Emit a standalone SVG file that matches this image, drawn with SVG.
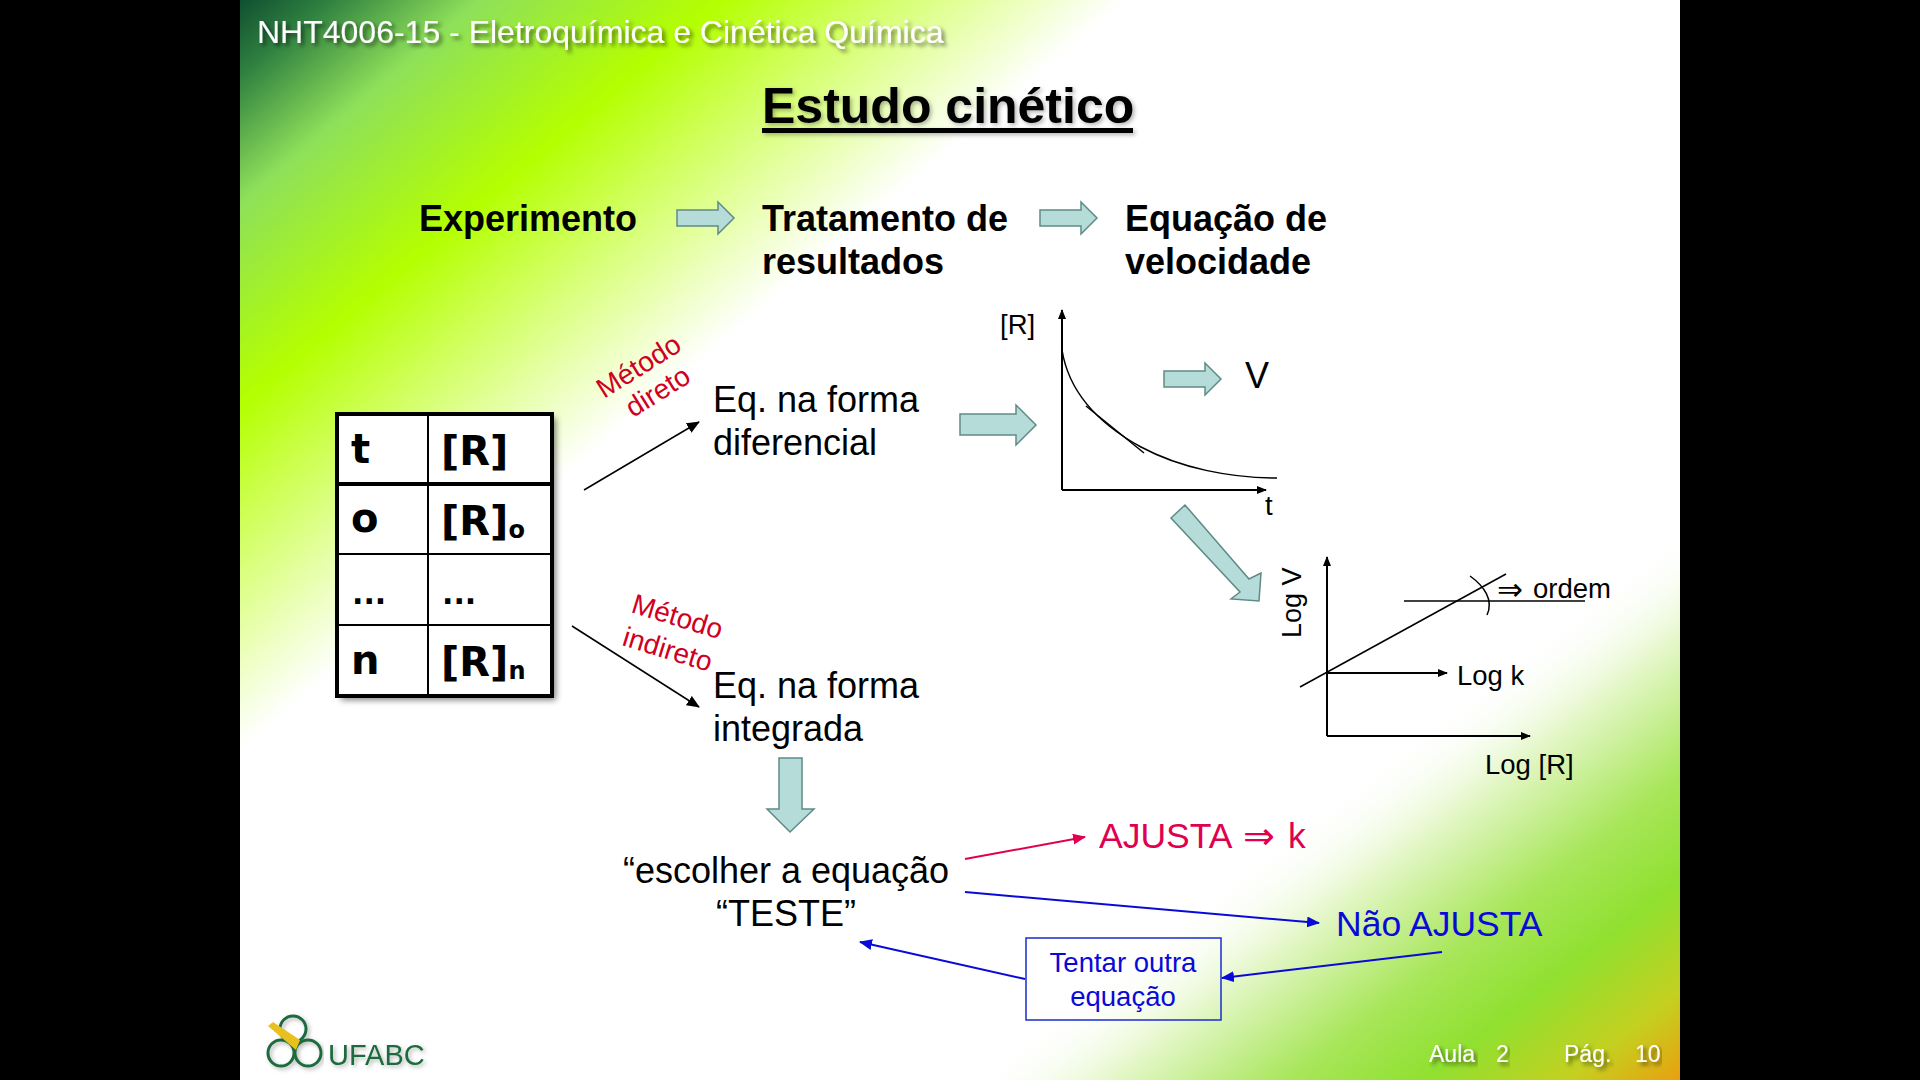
<svg xmlns="http://www.w3.org/2000/svg" width="1920" height="1080" viewBox="0 0 1920 1080">
<style>
text{font-family:"Liberation Sans",Arial,sans-serif;fill:#000}
.h{font-weight:700;font-size:36px}
.b{font-size:36px}
.s{font-size:27.5px}
.r{fill:#d00020;font-size:28px}
.w{fill:#fff;filter:url(#ts)}
.bl{fill:#0a0ad8}
.hand{font-family:"DejaVu Sans",sans-serif;font-weight:700;font-size:40px}
.dots{font-family:"DejaVu Sans",sans-serif;font-weight:700;font-size:30px}
.sub{font-family:"DejaVu Sans",sans-serif;font-weight:700;font-size:24px}
.ba{fill:#b5dcd8;stroke:#5f8a86;stroke-width:1.5}
.ln{fill:none;stroke:#000;stroke-width:1.5}
.ax{fill:none;stroke:#000;stroke-width:2}
.cb{fill:none;stroke:#0a0ad8;stroke-width:2}
.cr{fill:none;stroke:#e0004f;stroke-width:2}
.tb{fill:none;stroke:#000;stroke-width:2}
</style>
<defs>
<linearGradient id="g1" gradientUnits="userSpaceOnUse" x1="240" y1="0" x2="610" y2="437">
<stop offset="0" stop-color="#0f4f30"/><stop offset=".1" stop-color="#2f8040"/><stop offset=".27" stop-color="#8ee05a"/><stop offset=".54" stop-color="#b4ff00"/><stop offset=".74" stop-color="#d6ff70"/><stop offset="1" stop-color="#fff"/>
</linearGradient>
<linearGradient id="g2" gradientUnits="userSpaceOnUse" x1="1412" y1="735" x2="1680" y2="1080">
<stop offset="0" stop-color="#fff" stop-opacity="0"/><stop offset=".2" stop-color="#e4f7c8"/><stop offset=".45" stop-color="#a8e65a"/><stop offset=".64" stop-color="#90e030"/><stop offset=".84" stop-color="#c4d020"/><stop offset="1" stop-color="#e8a010"/>
</linearGradient>
<filter id="ts" x="-5%" y="-30%" width="110%" height="170%"><feDropShadow dx="3" dy="3" stdDeviation="2" flood-color="#000" flood-opacity=".55"/></filter>
<filter id="tl" x="-5%" y="-30%" width="110%" height="170%"><feDropShadow dx="2" dy="2" stdDeviation="2" flood-color="#000" flood-opacity=".3"/></filter>
<filter id="ds" x="-5%" y="-5%" width="110%" height="110%"><feDropShadow dx="4" dy="4" stdDeviation="3" flood-color="#000" flood-opacity=".5"/></filter>
<marker id="mk" markerWidth="10" markerHeight="8" refX="9" refY="4" orient="auto" markerUnits="userSpaceOnUse"><path d="M0 0L10 4L0 8Z" fill="#000"/></marker>
<marker id="mkl" markerWidth="13" markerHeight="11" refX="12" refY="5.5" orient="auto" markerUnits="userSpaceOnUse"><path d="M0 0L13 5.5L0 11Z" fill="#000"/></marker>
<marker id="mb" markerWidth="13" markerHeight="11" refX="12" refY="5.5" orient="auto" markerUnits="userSpaceOnUse"><path d="M0 0L13 5.5L0 11Z" fill="#0a0ad8"/></marker>
<marker id="mr" markerWidth="13" markerHeight="11" refX="12" refY="5.5" orient="auto" markerUnits="userSpaceOnUse"><path d="M0 0L13 5.5L0 11Z" fill="#e0004f"/></marker>
<path id="arr" class="ba" d="M0 -8H41V-16L57 0L41 16V8H0Z"/>
</defs>

<rect width="1920" height="1080" fill="#000"/>
<rect x="240" width="1440" height="1080" fill="url(#g1)"/>
<rect x="240" width="1440" height="1080" fill="url(#g2)"/>

<g id="header">
<text class="w" x="257" y="43" font-size="32">NHT4006-15 - Eletroquímica e Cinética Química</text>
</g>
<g id="title" filter="url(#tl)">
<text x="762" y="123" font-weight="700" font-size="50">Estudo cinético</text>
<rect x="762" y="128" width="371" height="5" fill="#000"/>
</g>

<g id="step-experimento"><text class="h" x="419" y="231">Experimento</text></g>
<g id="step-tratamento"><text class="h" x="762" y="231">Tratamento de</text><text class="h" x="762" y="274">resultados</text></g>
<g id="step-equacao"><text class="h" x="1125" y="231">Equação de</text><text class="h" x="1125" y="274">velocidade</text></g>

<g id="table">
<rect x="337" y="414" width="215" height="282" fill="#fff" filter="url(#ds)"/>
<rect x="337" y="414" width="215" height="282" fill="none" stroke="#000" stroke-width="4"/>
<path class="tb" d="M428 414V696M337 554H552M337 625H552"/>
<path d="M337 484H552" stroke="#000" stroke-width="4"/>
<text class="hand" x="351" y="463">t</text>
<text class="hand" x="441" y="465">[R]</text>
<text class="hand" x="351" y="532">o</text>
<text class="hand" x="441" y="535">[R]<tspan class="sub" dy="3">o</tspan></text>
<text class="dots" x="352" y="604">...</text>
<text class="dots" x="442" y="604">...</text>
<text class="hand" x="351" y="674">n</text>
<text class="hand" x="441" y="676">[R]<tspan class="sub" dy="3">n</tspan></text>
</g>

<g id="label-direto">
<text class="r" transform="translate(604 399) rotate(-32)">Método</text>
<text class="r" transform="translate(633 418) rotate(-32)">direto</text>
</g>
<g id="label-indireto">
<text class="r" transform="translate(630 612) rotate(17)">Método</text>
<text class="r" transform="translate(621 645) rotate(17)">indireto</text>
</g>

<g id="eq-diferencial"><text class="b" x="713" y="412">Eq. na forma</text><text class="b" x="713" y="455">diferencial</text></g>
<g id="eq-integrada"><text class="b" x="713" y="698">Eq. na forma</text><text class="b" x="713" y="741">integrada</text></g>

<g id="chart-r">
<path class="ax" d="M1062 490H1266" marker-end="url(#mk)"/>
<path class="ax" d="M1062 490V310" marker-end="url(#mk)"/>
<path class="ln" d="M1062 350C1070 400 1110 430 1141 447C1180 468 1230 478 1277 478"/>
<path class="ln" d="M1086 406L1144 453"/>
<text class="s" x="1000" y="334">[R]</text>
<text class="s" x="1265" y="515">t</text>
</g>
<g id="result-v"><text x="1245" y="388" font-size="36">V</text></g>

<g id="chart-log">
<path class="ax" d="M1327 736H1530" marker-end="url(#mk)"/>
<path class="ax" d="M1327 736V557" marker-end="url(#mk)"/>
<path class="ln" d="M1300 687L1506 574"/>
<path class="ln" d="M1404 601H1585"/>
<path class="ln" d="M1470 576C1484 586 1494 600 1487 615"/>
<text transform="translate(1301 638) rotate(-90)" font-size="27">Log V</text>
<text x="1497" y="600" font-size="31" font-family="DejaVu Sans" style="font-family:'DejaVu Sans',sans-serif">⇒</text>
<text class="s" x="1533" y="598">ordem</text>
<text class="s" x="1457" y="685">Log k</text>
<text class="s" x="1485" y="774">Log [R]</text>
</g>

<g id="eq-teste"><text class="b" x="786" y="883" text-anchor="middle">“escolher a equação</text><text class="b" x="786" y="926" text-anchor="middle">“TESTE”</text></g>
<g id="ajusta">
<text x="1099" y="848" font-size="35.5" style="fill:#e0004f">AJUSTA</text>
<text x="1243" y="849" font-size="38" style="fill:#e0004f;font-family:'DejaVu Sans',sans-serif">⇒</text>
<text x="1288" y="848" font-size="35.5" style="fill:#e0004f">k</text>
</g>
<g id="nao-ajusta"><text class="bl" x="1336" y="936" font-size="35.5">Não AJUSTA</text></g>
<g id="tentar">
<rect x="1026" y="938" width="195" height="82" fill="none" stroke="#1a2ccc" stroke-width="1.5"/>
<text class="bl" font-size="27.5" x="1123" y="972" text-anchor="middle">Tentar outra</text>
<text class="bl" font-size="27.5" x="1123" y="1006" text-anchor="middle">equação</text>
</g>

<g id="logo">
<g fill="none" stroke="#1d6b3e" stroke-width="3" filter="url(#tl)">
<circle cx="293" cy="1029" r="13"/><circle cx="281" cy="1053" r="13"/><circle cx="308" cy="1053" r="13"/>
</g>
<path d="M268 1026L273 1022L300 1040L296 1050Z" fill="#e8c020"/>
<text x="328" y="1065" font-size="29" style="fill:#1d6b3e" filter="url(#tl)">UFABC</text>
</g>
<g id="footer">
<text class="w" x="1429" y="1062" font-size="23">Aula</text>
<text class="w" x="1496" y="1062" font-size="23">2</text>
<text class="w" x="1564" y="1062" font-size="23">Pág.</text>
<text class="w" x="1635" y="1062" font-size="23">10</text>
</g>

<g id="connectors">
<use href="#arr" transform="translate(677 218)"/>
<use href="#arr" transform="translate(1040 218)"/>
<use href="#arr" transform="translate(1164 379)"/>
<path class="ba" d="M960 414H1016V405L1036 425L1016 445V435H960Z"/>
<path class="ba" d="M1171 518L1185 505L1249 579L1261 573L1259 601L1231 599L1240 592Z"/>
<path class="ba" d="M779 758H802V809H814L790 832L767 809H779Z"/>
<path class="ln" d="M584 490L699 422" marker-end="url(#mkl)"/>
<path class="ln" d="M572 626L699 707" marker-end="url(#mkl)"/>
<path class="ax" d="M1327 673H1447" marker-end="url(#mk)"/>
<path class="cr" d="M965 859L1085 837" marker-end="url(#mr)"/>
<path class="cb" d="M965 892L1319 923" marker-end="url(#mb)"/>
<path class="cb" d="M1442 952L1222 978" marker-end="url(#mb)"/>
<path class="cb" d="M1025 979L860 942" marker-end="url(#mb)"/>
</g>
</svg>
